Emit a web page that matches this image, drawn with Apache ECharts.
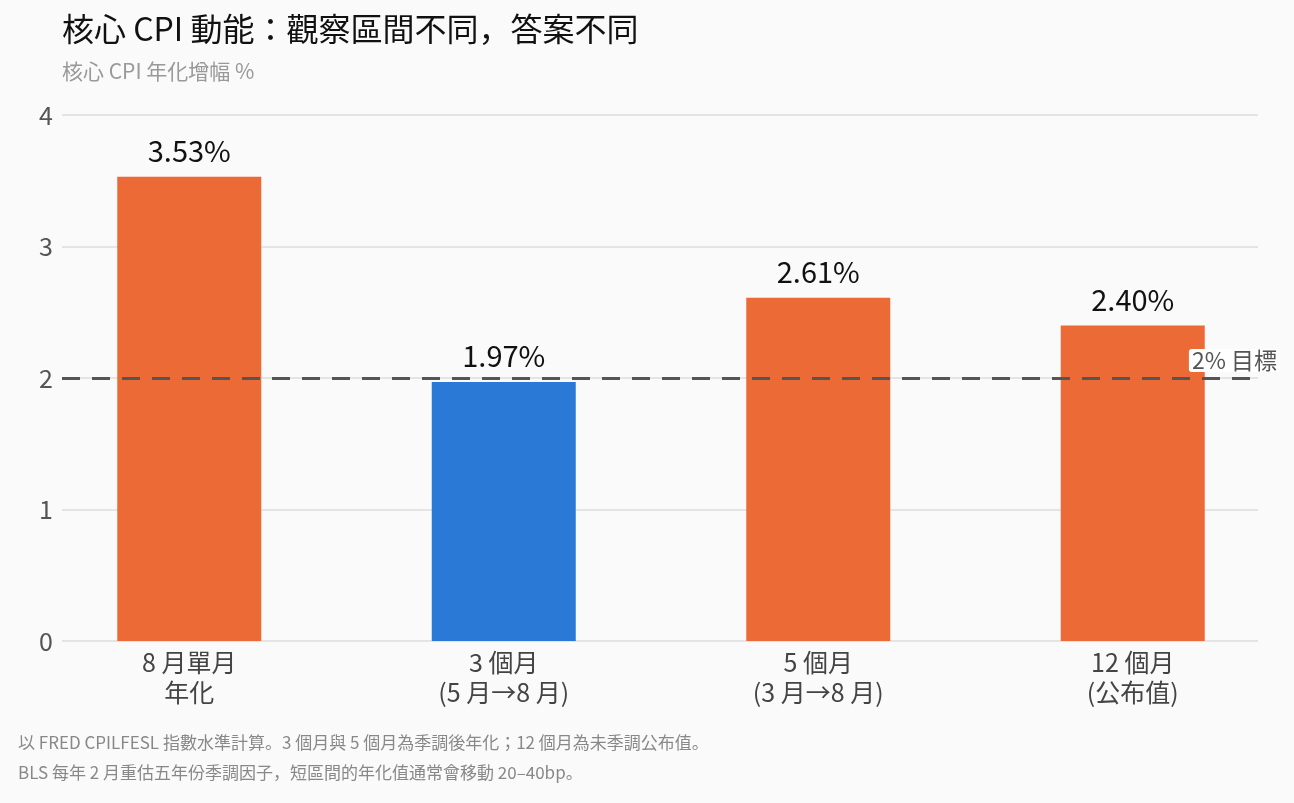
<!DOCTYPE html>
<html>
<head>
<meta charset="utf-8">
<script src="https://cdn.jsdelivr.net/npm/echarts@6/dist/echarts.min.js"></script>
<style>
  html, body { margin: 0; padding: 0; background: #fafafa; }
  #chart { width: 1294px; height: 803px; }
</style>
</head>
<body>
<div id="chart"></div>
<script>
const FONT = '"Noto Sans CJK JP", "Noto Sans", sans-serif';

// data
const categories = ['8 月單月\n年化', '3 個月\n(5 月→8 月)', '5 個月\n(3 月→8 月)', '12 個月\n(公布值)'];
const values = [3.53, 1.97, 2.61, 2.40];
const highlight = [false, true, false, false];
const targetValue = 2;
const targetLabel = '2% 目標';
const yTicks = [0, 1, 2, 3, 4];

const titleText = '核心 CPI 動能：觀察區間不同，答案不同';
const subtitleText = '核心 CPI 年化增幅 %';
const notes = [
  '以 FRED CPILFESL 指數水準計算。3 個月與 5 個月為季調後年化；12 個月為未季調公布值。',
  'BLS 每年 2 月重估五年份季調因子，短區間的年化值通常會移動 20–40bp。'
];

const ORANGE = '#eb6a36';
const BLUE = '#2a79d6';

const chart = echarts.init(document.getElementById('chart'));

const yBase = {
  type: 'value',
  min: yTicks[0],
  max: yTicks[yTicks.length - 1],
  interval: 1
};

chart.setOption({
  backgroundColor: '#fafafa',
  animation: false,
  textStyle: { fontFamily: FONT },
  title: [
    { text: titleText, left: 57, top: 8,
      textStyle: { fontFamily: FONT, fontSize: 32, fontWeight: 'normal', color: '#111' } },
    { text: subtitleText, left: 57, top: 56,
      textStyle: { fontFamily: FONT, fontSize: 21, fontWeight: 'normal', color: '#999' } },
    { text: notes[0], left: 13, top: 729,
      textStyle: { fontFamily: FONT, fontSize: 17, fontWeight: 'normal', color: '#888' } },
    { text: notes[1], left: 13, top: 759,
      textStyle: { fontFamily: FONT, fontSize: 17, fontWeight: 'normal', color: '#888' } }
  ],
  grid: [
    // axis / gridline frame
    { left: 62, right: 36, top: 115, bottom: 162 },
    // bar placement
    { left: 32, right: 4, top: 115, bottom: 162 }
  ],
  xAxis: [
    { gridIndex: 0, type: 'category', data: categories, show: false },
    {
      gridIndex: 1, type: 'category', data: categories,
      axisLine: { show: false }, axisTick: { show: false },
      axisLabel: { margin: 6, fontSize: 25, lineHeight: 30, color: '#444', fontFamily: FONT }
    }
  ],
  yAxis: [
    Object.assign({}, yBase, {
      gridIndex: 0,
      axisLine: { show: false }, axisTick: { show: false },
      axisLabel: { margin: 9, fontSize: 25, color: '#555', fontFamily: FONT },
      splitLine: { lineStyle: { color: '#e4e4e4', width: 2 } }
    }),
    Object.assign({}, yBase, { gridIndex: 1, show: false, splitLine: { show: false } })
  ],
  series: [
    {
      type: 'bar',
      xAxisIndex: 1, yAxisIndex: 1,
      barWidth: 144,
      z: 2,
      data: values.map((v, i) => ({ value: v, itemStyle: { color: highlight[i] ? BLUE : ORANGE } })),
      label: {
        show: true, position: 'top', distance: 11,
        fontSize: 29, color: '#111', fontFamily: FONT,
        formatter: p => p.value.toFixed(2) + '%'
      }
    },
    {
      type: 'line',
      xAxisIndex: 0, yAxisIndex: 0,
      data: [],
      z: 5,
      markLine: {
        silent: true,
        symbol: ['none', 'none'],
        lineStyle: { color: '#555', width: 3, type: [18, 12] },
        label: {
          show: true, position: 'insideEndTop',
          formatter: targetLabel,
          fontSize: 23, color: '#555', fontFamily: FONT,
          backgroundColor: '#fff', borderRadius: 3, padding: [0, 3],
          distance: [-22, 6]
        },
        data: [{ yAxis: targetValue }]
      }
    }
  ]
});
</script>
</body>
</html>
